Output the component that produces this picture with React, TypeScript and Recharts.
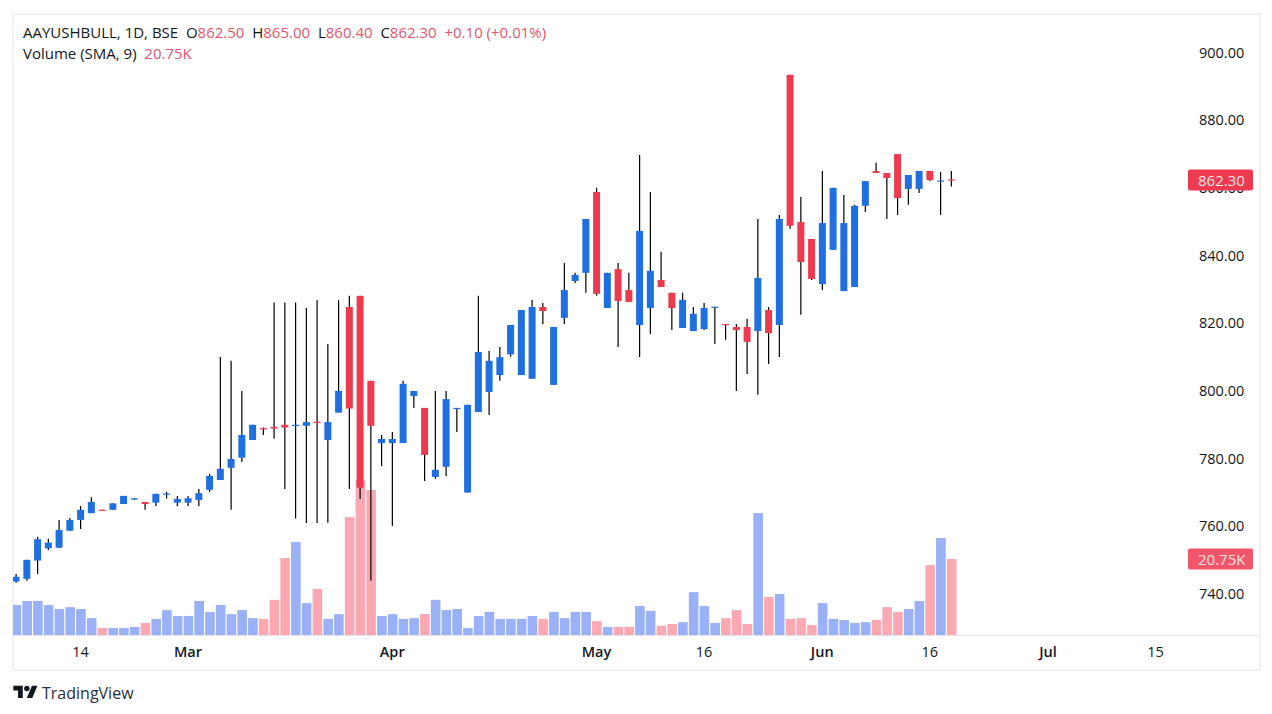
import { Bar, ComposedChart, ReferenceLine, XAxis, YAxis } from 'recharts'

const opens = [
  743.7, 744.5, 749.9, 753.5, 753.7, 758.7, 761.9, 763.9, 764.9, 764.9, 766.6, 767.9, 767.2, 767.0, 769.4, 767.0,
  767.0, 767.8, 770.8, 773.7, 777.3, 780.3, 785.5, 789.0, 789.4, 790.0, 789.8, 789.7, 790.9, 785.5, 793.6, 824.8,
  828.1, 803.0, 784.6, 784.6, 784.6, 798.5, 795.0, 774.6, 777.6, 794.8, 770.0, 793.8, 799.7, 804.7, 810.8, 804.7,
  803.6, 824.8, 801.8, 821.6, 832.5, 834.9, 858.8, 824.5, 836.0, 829.8, 819.5, 824.5, 832.8, 829.0, 818.6, 817.7,
  818.3, 824.6, 819.8, 818.9, 818.9, 817.7, 823.9, 819.5, 893.4, 849.9, 844.9, 831.6, 841.7, 829.5, 830.7, 854.7,
  865.0, 864.4, 870.0, 859.7, 859.7, 865.0, 861.9, 862.5,
]
const highs = [
  745.9, 750.1, 756.9, 756.3, 761.9, 762.5, 766.0, 768.6, 764.9, 766.8, 769.0, 768.3, 767.2, 769.6, 770.2, 769.0,
  769.0, 771.0, 775.5, 810.0, 808.9, 800.0, 790.0, 789.2, 826.1, 826.1, 826.1, 824.5, 826.9, 813.9, 826.9, 828.1,
  828.1, 803.0, 787.0, 787.9, 803.0, 800.0, 795.0, 800.0, 800.0, 795.0, 795.9, 828.1, 811.8, 813.0, 819.5, 823.9,
  826.9, 826.0, 818.9, 837.8, 834.9, 850.8, 860.0, 834.9, 837.8, 834.9, 869.7, 858.8, 841.1, 829.0, 829.0, 824.8,
  826.0, 824.9, 819.8, 819.8, 821.3, 850.8, 824.8, 852.0, 893.4, 857.3, 844.9, 865.0, 860.0, 857.9, 855.0, 862.0,
  867.4, 864.4, 870.0, 863.8, 865.0, 865.0, 864.7, 865.0,
]
const lows = [
  743.3, 743.9, 745.9, 753.0, 753.6, 758.6, 759.2, 763.9, 764.6, 764.9, 766.6, 767.9, 764.9, 766.0, 768.2, 766.0,
  766.0, 766.0, 770.2, 773.7, 764.9, 779.0, 785.5, 787.0, 785.9, 771.0, 762.3, 761.0, 761.0, 761.1, 793.6, 771.0,
  768.1, 743.9, 777.8, 760.1, 784.6, 795.0, 773.4, 774.0, 774.9, 787.9, 770.0, 793.8, 792.9, 803.0, 810.1, 804.7,
  803.6, 819.8, 801.8, 819.8, 831.9, 829.0, 828.1, 824.5, 813.0, 826.3, 810.0, 816.8, 830.7, 818.0, 818.6, 817.7,
  818.0, 813.9, 815.1, 800.0, 805.0, 798.9, 808.0, 810.0, 847.9, 822.5, 832.8, 829.8, 841.7, 829.5, 830.7, 852.9,
  864.4, 850.8, 852.0, 855.0, 858.5, 862.0, 852.0, 860.4,
]
const closes = [
  745.1, 750.1, 756.2, 755.2, 758.9, 761.9, 764.9, 767.2, 764.6, 766.8, 769.0, 768.3, 766.6, 769.6, 769.7, 768.1,
  768.3, 769.8, 774.9, 777.0, 779.9, 787.0, 790.0, 788.8, 788.9, 789.2, 790.0, 790.8, 790.7, 790.8, 800.0, 794.8,
  771.4, 789.7, 785.8, 785.8, 802.1, 800.0, 781.1, 776.7, 797.6, 795.0, 795.9, 811.5, 808.9, 810.0, 819.5, 823.9,
  824.8, 823.6, 818.9, 829.8, 834.3, 850.8, 828.7, 834.9, 826.6, 826.3, 847.3, 835.5, 830.7, 824.5, 826.9, 822.8,
  824.5, 824.9, 819.6, 818.0, 814.5, 833.4, 817.1, 850.8, 848.8, 838.1, 833.1, 849.6, 860.0, 849.6, 854.7, 862.0,
  864.4, 862.9, 857.0, 863.8, 865.0, 862.3, 862.2, 862.3,
]
// thousands
const volumes = [
  8.2, 9.3, 9.3, 8.2, 7.1, 7.6, 7.1, 4.6, 1.9, 1.9, 1.9, 2.2, 3.3, 4.4, 6.8, 5.2,
  5.2, 9.3, 6.3, 8.2, 5.7, 6.8, 4.6, 4.4, 9.6, 21.0, 25.4, 8.7, 12.6, 4.4, 5.7, 32.2,
  42.3, 39.6, 5.2, 5.7, 4.4, 4.6, 5.7, 9.6, 6.8, 7.1, 1.9, 5.2, 6.3, 4.4, 4.4, 4.4,
  5.2, 4.4, 6.3, 4.6, 6.3, 6.3, 3.8, 2.2, 2.2, 2.2, 7.9, 6.6, 2.5, 3.0, 3.5, 11.7,
  7.9, 3.3, 4.6, 6.8, 3.0, 33.3, 10.4, 11.2, 4.4, 4.6, 2.7, 8.7, 4.4, 4.1, 3.3, 3.5,
  4.1, 7.6, 6.3, 7.1, 9.3, 19.1, 26.5, 20.75,
]

// empty sessions to the right of the last candle, up to the price scale
const SESSIONS = 108

const dateTicks = [6, 16, 35, 54, 64, 75, 85, 96, 106]
const dateLabels = ['14', 'Mar', 'Apr', 'May', '16', 'Jun', '16', 'Jul', '15']
const monthLabels = ['Mar', 'Apr', 'May', 'Jun', 'Jul']

const priceTicks = [740, 760, 780, 800, 820, 840, 860, 880, 900]

const lastClose = 862.3
const lastVolume = 20.75

const UP = '#1f6fe0'
const DOWN = '#ee3a4e'
const UP_VOL = '#9ab0f7'
const DOWN_VOL = '#fba8b2'
const FONT = '"Open Sans", sans-serif'

const rows = Array.from({ length: SESSIONS }, (_, i) => ({
  idx: i,
  open: opens[i],
  high: highs[i],
  low: lows[i],
  close: closes[i],
  volume: volumes[i],
}))

const wickRange = (d: any) => (d.open === undefined ? null : [d.low, d.high])

function Candle(props: any) {
  const { x, y, width, height, payload } = props
  if (payload.open === undefined) return null
  const up = payload.close >= payload.open
  const k = height / (payload.high - payload.low)
  const top = y + (payload.high - Math.max(payload.open, payload.close)) * k
  const bodyH = Math.max(Math.abs(payload.open - payload.close) * k, 1.2)
  const cx = x + width / 2
  return (
    <g>
      <line x1={cx} x2={cx} y1={y} y2={y + height} stroke="#000" strokeWidth={1.2} />
      <rect x={cx - 3.5} y={top} width={7} height={bodyH} fill={up ? UP : DOWN} />
    </g>
  )
}

function VolumeBar(props: any) {
  const { x, y, width, height, payload } = props
  if (payload.volume === undefined) return null
  return <rect x={x} y={y} width={width} height={height} fill={payload.close >= payload.open ? UP_VOL : DOWN_VOL} />
}

function DateTick({ x, y, payload }: any) {
  const label = dateLabels[dateTicks.indexOf(payload.value)]
  return (
    <text x={x} y={y + 18} textAnchor="middle" fontSize={14.5} fontFamily={FONT} fill="#131722"
      fontWeight={monthLabels.includes(label) ? 600 : 400}>
      {label}
    </text>
  )
}

function PriceTag({ viewBox, text, fill }: any) {
  const tx = viewBox.x + viewBox.width + 16.4
  return (
    <g>
      <rect x={tx} y={viewBox.y - 10.5} width={65} height={21} rx={2} fill={fill} />
      <text x={tx + 10} y={viewBox.y + 5.5} fontSize={15} fontFamily={FONT} fill="#ffe3e3">{text}</text>
    </g>
  )
}

const headStyle = { position: 'absolute', left: 23, fontSize: 15, lineHeight: '20px', color: '#131722', whiteSpace: 'pre' } as const
const RED = '#e0566f'

export default function App() {
  return (
    <div style={{ position: 'absolute', left: 0, top: 0, width: 1272, height: 714, background: '#fff', fontFamily: FONT, overflow: 'hidden' }}>
      <div style={{ position: 'absolute', left: 12, top: 13, width: 1245, height: 654, border: '2px solid #f0f1f4' }} />
      <div style={{ position: 'absolute', left: 13, top: 635, width: 1245, height: 1, background: '#e4e6ec' }} />

      <div style={{ position: 'absolute', left: 13, top: 0 }}>
        <ComposedChart width={1259} height={714} data={rows} margin={{ top: 14, right: 0, bottom: 49, left: -2.4 }}>
          <XAxis xAxisId="vol" dataKey="idx" hide />
          <XAxis xAxisId="price" dataKey="idx" height={30} ticks={dateTicks} interval={0} tick={<DateTick />}
            axisLine={false} tickLine={false} tickSize={0} tickMargin={4} />
          <YAxis yAxisId="vol" hide domain={[0, 169.6]} />
          <YAxis yAxisId="price" orientation="right" width={100.4} domain={[727.9, 911.37]} ticks={priceTicks} interval={0}
            axisLine={false} tickLine={false} tickSize={0} tickMargin={27.4}
            tickFormatter={(v: number) => v.toFixed(2)}
            tick={{ fontSize: 14.5, fontFamily: FONT, fill: '#131722' }} />
          <Bar xAxisId="vol" yAxisId="vol" dataKey="volume" barSize={9.6} shape={<VolumeBar />} isAnimationActive={false} />
          <Bar xAxisId="price" yAxisId="price" dataKey={wickRange} barSize={7} shape={<Candle />} isAnimationActive={false} />
          <ReferenceLine xAxisId="vol" yAxisId="vol" y={lastVolume} stroke="none" zIndex={2000}
            label={{ zIndex: 2000, content: (p: any) => <PriceTag viewBox={p.viewBox} text="20.75K" fill="#f2566a" /> }} />
          <ReferenceLine xAxisId="price" yAxisId="price" y={lastClose} stroke="none" zIndex={2000}
            label={{ zIndex: 2000, content: (p: any) => <PriceTag viewBox={p.viewBox} text="862.30" fill="#ee3a4e" /> }} />
        </ComposedChart>
      </div>

      <div style={{ ...headStyle, top: 22 }}>
        AAYUSHBULL, 1D, BSE{'  '}O<span style={{ color: RED }}>862.50</span>{'  '}H<span style={{ color: RED }}>865.00</span>{'  '}L<span style={{ color: RED }}>860.40</span>{'  '}C<span style={{ color: RED }}>862.30</span>{'  '}<span style={{ color: RED }}>+0.10 (+0.01%)</span>
      </div>
      <div style={{ ...headStyle, top: 43 }}>
        Volume (SMA, 9){'  '}<span style={{ color: RED }}>20.75K</span>
      </div>

      <svg style={{ position: 'absolute', left: 13, top: 683 }} width={25} height={19} viewBox="0 0 36 28" fill="#131722">
        <path d="M14 22H7V11H0V4h14v18zM28 22h-8l7.5-18h8L28 22z" />
        <circle cx="20" cy="8" r="4" />
      </svg>
      <div style={{ position: 'absolute', left: 42, top: 682, fontSize: 16, lineHeight: '22px', color: '#2a2e39' }}>TradingView</div>
    </div>
  )
}
